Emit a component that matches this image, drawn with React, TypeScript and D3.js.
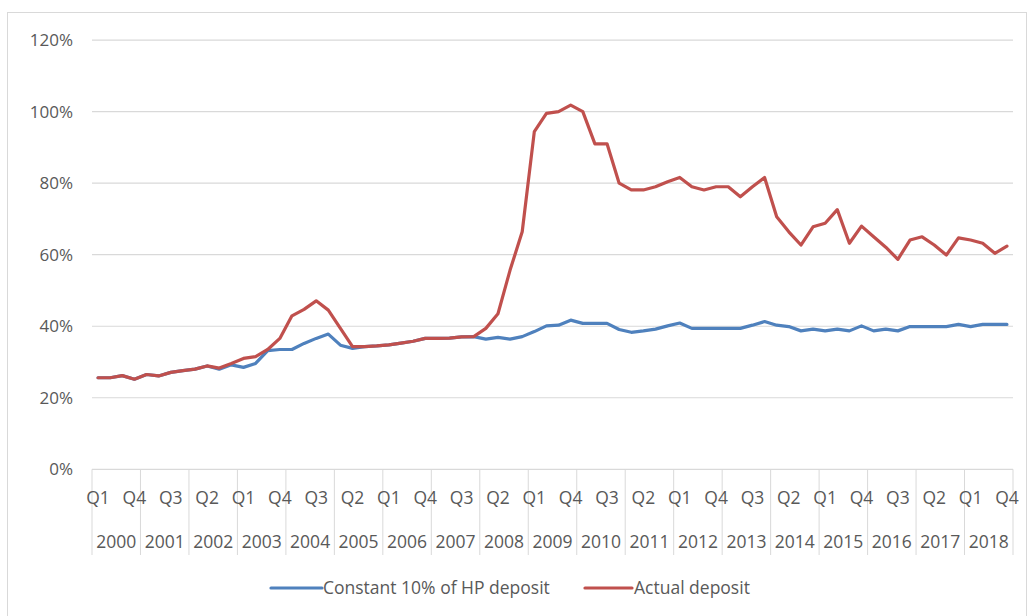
import React from "react";
import * as d3 from "d3";

const years = [2000, 2001, 2002, 2003, 2004, 2005, 2006, 2007, 2008, 2009, 2010, 2011, 2012, 2013, 2014, 2015, 2016, 2017, 2018];
const quarterNames = ["Q1", "Q2", "Q3", "Q4"];
const yTicks = [0, 0.2, 0.4, 0.6, 0.8, 1.0, 1.2];

const actualDeposit = [
  25.6, 25.6, 26.2, 25.2, 26.5, 26.1, 27.1, 27.6, 28.0, 28.9, 28.3, 29.6,
  31.0, 31.5, 33.5, 36.6, 42.9, 44.7, 47.1, 44.5, 39.4, 34.3, 34.3, 34.5,
  34.8, 35.3, 35.8, 36.6, 36.6, 36.7, 37.0, 37.1, 39.4, 43.5, 55.7, 66.4,
  94.4, 99.5, 100.0, 101.8, 100.0, 91.0, 91.0, 80.0, 78.1, 78.1, 79.0, 80.4,
  81.6, 79.0, 78.1, 79.0, 79.0, 76.2, 79.0, 81.6, 70.6, 66.4, 62.7, 67.8,
  68.8, 72.6, 63.2, 68.0, 65.0, 62.1, 58.7, 64.1, 65.0, 62.7, 59.9, 64.7,
  64.1, 63.2, 60.4, 62.4,
];

const constantDeposit = [
  25.6, 25.6, 26.2, 25.2, 26.5, 26.1, 27.1, 27.6, 28.0, 28.9, 28.0, 29.2,
  28.5, 29.6, 33.2, 33.5, 33.5, 35.2, 36.6, 37.8, 34.7, 33.8, 34.3, 34.5,
  34.8, 35.3, 35.8, 36.6, 36.6, 36.7, 37.0, 37.1, 36.4, 36.9, 36.4, 37.1,
  38.5, 40.1, 40.3, 41.7, 40.8, 40.8, 40.8, 39.1, 38.3, 38.7, 39.2, 40.1,
  40.9, 39.4, 39.4, 39.4, 39.4, 39.4, 40.3, 41.3, 40.3, 39.9, 38.7, 39.2,
  38.7, 39.2, 38.7, 40.1, 38.7, 39.2, 38.7, 39.9, 39.9, 39.9, 39.9, 40.5,
  39.9, 40.5, 40.5, 40.5,
];

const seriesNames = ["Constant 10% of HP deposit", "Actual deposit"];

export default function App() {
  const W = 1033;
  const H = 616;
  const left = 92;
  const right = 1013;
  const top = 40.1;
  const bottom = 469.3;

  const idx = d3.range(actualDeposit.length);
  const x = d3.scaleBand<number>().domain(idx).range([left, right]).paddingInner(0).paddingOuter(0);
  const bw = x.bandwidth();
  const cx = (i: number) => (x(i) as number) + bw / 2;
  const y = d3.scaleLinear().domain([0, 1.2]).range([bottom, top]);
  const fmt = d3.format(".0%");

  const line = d3
    .line<number>()
    .x((_, i) => cx(i))
    .y((d) => y(d / 100));

  const textColor = "#595959";
  const gridColor = "#d9d9d9";
  const font = "'Open Sans', 'Noto Sans', sans-serif";
  const blue = "#4f81bd";
  const red = "#c0504d";

  return (
    <svg
      width={W}
      height={H}
      style={{ position: "fixed", left: 0, top: 0, background: "#fff" }}
      fontFamily={font}
    >
      <rect x={0} y={0} width={W} height={H} fill="#fff" />
      <rect x={7.5} y={12.5} width={1019} height={640} fill="none" stroke={gridColor} />
      {yTicks.map((t) => (
        <g key={t}>
          <line x1={left} x2={right} y1={y(t)} y2={y(t)} stroke={gridColor} strokeWidth={1.2} />
          <text x={73} y={y(t)} dy="0.35em" textAnchor="end" fontSize={17} fill={textColor}>
            {fmt(t)}
          </text>
        </g>
      ))}
      {/* year separators */}
      {d3.range(years.length + 1).map((k) => {
        const xx = k < years.length ? (x(k * 4) as number) : right;
        return <line key={"s" + k} x1={xx} x2={xx} y1={bottom} y2={555} stroke={gridColor} strokeWidth={1} />;
      })}
      {idx
        .filter((i) => i % 3 === 0)
        .map((i) => (
          <text key={"q" + i} x={cx(i)} y={504} textAnchor="middle" fontSize={17.5} fill={textColor}>
            {quarterNames[i % 4]}
          </text>
        ))}
      {years.map((yr, k) => (
        <text
          key={"y" + yr}
          x={(x(k * 4) as number) + bw * 2}
          y={548}
          textAnchor="middle"
          fontSize={17.5}
          fill={textColor}
        >
          {yr}
        </text>
      ))}
      <path d={line(constantDeposit) || ""} fill="none" stroke={blue} strokeWidth={3.2} strokeLinejoin="round" strokeLinecap="round" />
      <path d={line(actualDeposit) || ""} fill="none" stroke={red} strokeWidth={3.2} strokeLinejoin="round" strokeLinecap="round" />
      {/* legend */}
      <g>
        <line x1={271} x2={322} y1={588} y2={588} stroke={blue} strokeWidth={3.2} strokeLinecap="round" />
        <text x={323} y={588} dy="0.35em" fontSize={17.5} fill={textColor}>
          {seriesNames[0]}
        </text>
        <line x1={585} x2={632} y1={588} y2={588} stroke={red} strokeWidth={3.2} strokeLinecap="round" />
        <text x={634} y={588} dy="0.35em" fontSize={17.5} fill={textColor}>
          {seriesNames[1]}
        </text>
      </g>
    </svg>
  );
}
